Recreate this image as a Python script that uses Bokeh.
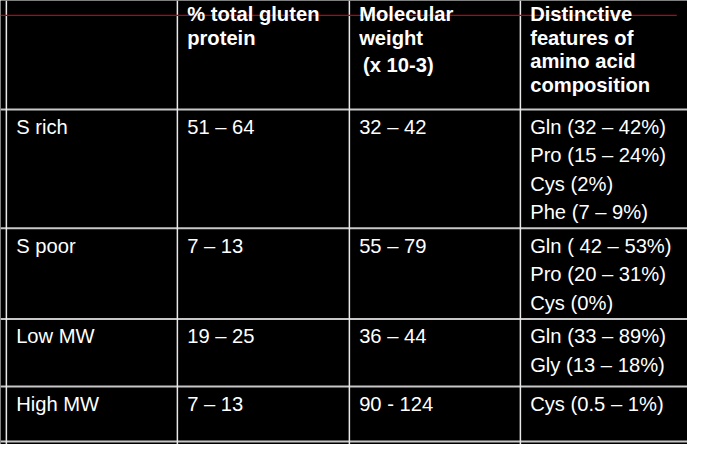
from bokeh.plotting import figure
from bokeh.models import Range1d, ColumnDataSource
from bokeh.core.properties import value
from bokeh.embed import file_html
from bokeh.resources import INLINE

# ---- data ----
header_total = ["% total gluten", "protein"]
header_mw = ["Molecular", "weight", " (x 10-3)"]
header_feat = ["Distinctive", "features of", "amino acid", "composition"]

fractions = ["S rich", "S poor", "Low MW", "High MW"]
total_pct = ["51 – 64", "7 – 13", "19 – 25", "7 – 13"]
mol_weight = ["32 – 42", "55 – 79", "36 – 44", "90 - 124"]
features = [
    ["Gln (32 – 42%)", "Pro (15 – 24%)", "Cys (2%)", "Phe (7 – 9%)"],
    ["Gln ( 42 – 53%)", "Pro (20 – 31%)", "Cys (0%)"],
    ["Gln (33 – 89%)", "Gly (13 – 18%)"],
    ["Cys (0.5 – 1%)"],
]

# ---- layout (reference pixel space) ----
W, H = 703, 460
col_x = [6, 181, 357, 532]
row_y = [113, 236, 330, 400, 457]
pad_x = 10
first_dy = 18
line_h = 29.5
head_y = [13.5, 38.5, 63, 87.5]
fs = "20.2px"
font = value("Liberation Sans")

p = figure(width=687, height=444, x_range=Range1d(0, W), y_range=Range1d(H, 0),
           output_backend="svg", toolbar_location=None, min_border=0,
           background_fill_color="black", border_fill_color="black")
p.axis.visible = False
p.grid.visible = False
p.outline_line_color = None

# grid lines
p.segment(x0=[0] * len(row_y), x1=[W] * len(row_y), y0=row_y, y1=row_y,
          line_color="#c8c8c8", line_width=2)
p.segment(x0=col_x, x1=col_x, y0=[0] * len(col_x), y1=[H] * len(col_x),
          line_color="#e8e8e8", line_width=1.5)
# red rule
p.segment(x0=[0], x1=[692], y0=[15.5], y1=[15.5], line_color="#c00010", line_width=1.2)

# header
hx, hy, ht = [], [], []
for ci, lines in [(1, header_total), (2, header_mw), (3, header_feat)]:
    for li, t in enumerate(lines):
        hx.append(col_x[ci] + pad_x + (4 if t.startswith(" ") else 0))
        hy.append(head_y[li] + (4 if t.startswith(" ") else 0))
        ht.append(t.strip())
p.text(x=hx, y=hy, text=ht, text_color="white", text_font=font,
       text_font_size=fs, text_font_style="bold", text_baseline="middle")

# body
bx, by, bt = [], [], []
for ri in range(len(fractions)):
    top = row_y[ri]
    cells = [[fractions[ri]], [total_pct[ri]], [mol_weight[ri]], features[ri]]
    for ci, lines in enumerate(cells):
        for li, t in enumerate(lines):
            bx.append(col_x[ci] + pad_x)
            by.append(top + first_dy + li * line_h)
            bt.append(t)
p.text(x=bx, y=by, text=bt, text_color="white", text_font=font,
       text_font_size=fs, text_baseline="middle")

open("out.html", "w").write(file_html(p, INLINE))
